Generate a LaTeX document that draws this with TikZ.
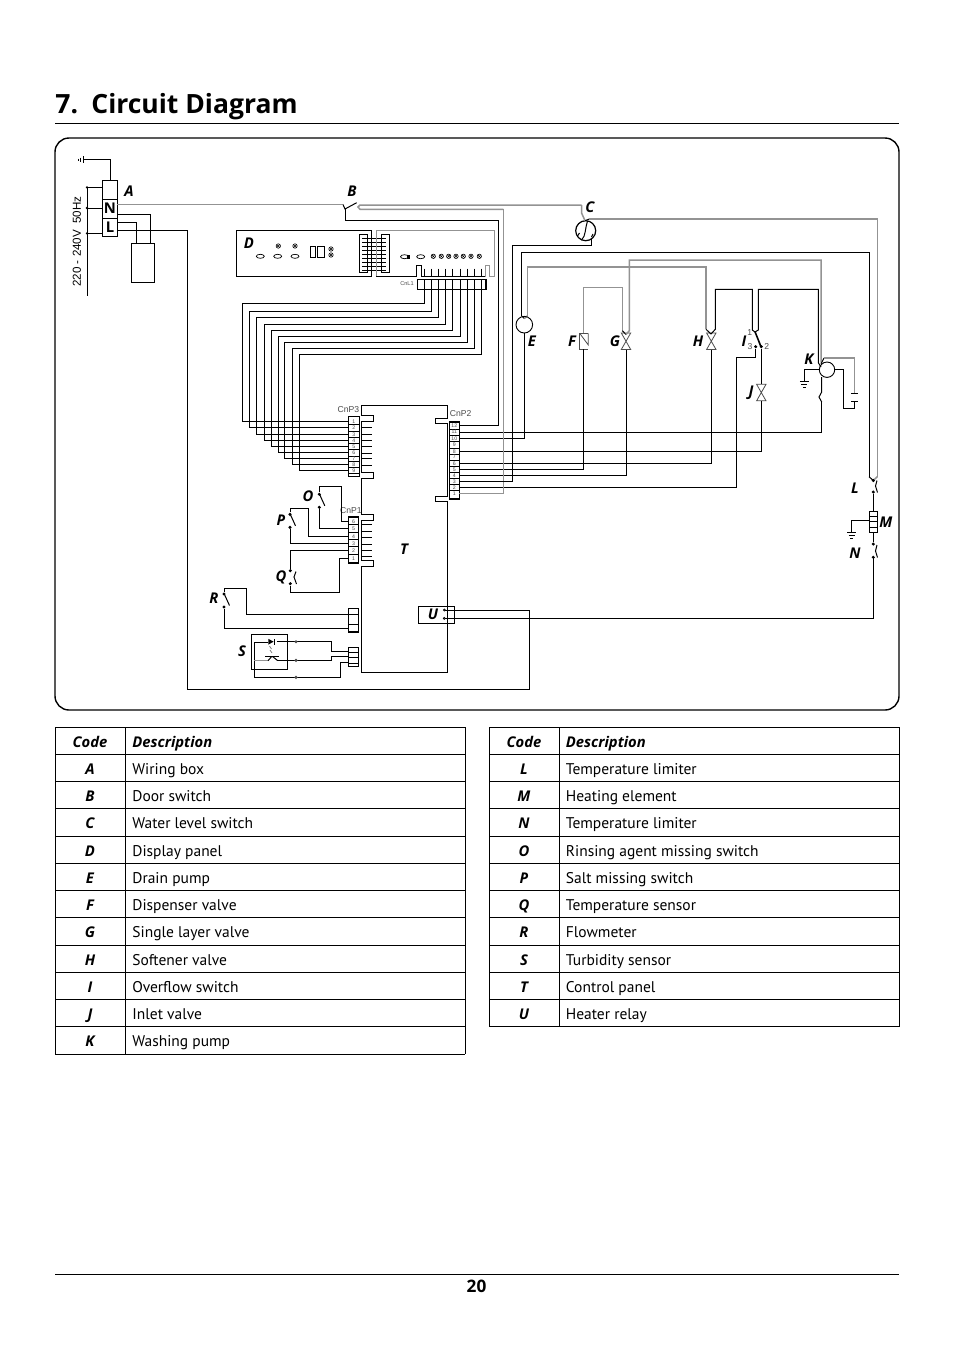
\documentclass[tikz,border=0pt]{standalone}
\usepackage{fontspec}
\setmainfont{PT Sans}
\newfontfamily\wirefont{Liberation Sans}
\newfontfamily\headfont{Open Sans}
\usetikzlibrary{calc}
\tikzset{>=latex}
\tikzset{
  wire/.style={line width=0.5pt},
  gwire/.style={gray!85, line width=0.75pt},
  thinpart/.style={gray!60!black, line width=0.4pt},
  dot/.style={circle, fill, inner sep=0pt, minimum size=1.7pt},
  ring/.style={circle, draw, line width=0.45pt, inner sep=0pt, minimum size=#1},
  letter/.style={font=\headfont\fontsize{7.4}{9}\selectfont\bfseries\itshape, inner sep=0pt},
  pinnum/.style={font=\wirefont\fontsize{2.6}{3}\selectfont, gray!60!black, inner sep=0pt},
  cnlabel/.style={font=\wirefont\fontsize{4.3}{5}\selectfont, gray!60!black, inner sep=0pt},
  tabtext/.style={font=\fontsize{7.75}{9}\selectfont, inner sep=0pt, anchor=base west},
  tabcode/.style={font=\headfont\fontsize{7.4}{9}\selectfont\bfseries\itshape, inner sep=0pt, anchor=base},
  tabhead/.style={font=\headfont\fontsize{7.4}{9}\selectfont\bfseries\itshape, inner sep=0pt, anchor=base west},
  headline/.style={font=\headfont\fontsize{13.25}{16}\selectfont\bfseries, inner sep=0pt, anchor=base west},
}
% bow tie valve, name/x/top
\newcommand{\valve}[3]{
  \draw[thinpart] (#2-4.7,#3) -- (#2+4.7,#3) -- (#2-4.7,#3+16.5) -- (#2+4.7,#3+16.5) -- cycle;
  \coordinate (#1t) at (#2,#3);
  \coordinate (#1b) at (#2,#3+16.5);
}
% earth bars, x/top
\newcommand{\earth}[2]{
  \draw[wire] (#1-4.5,#2) -- (#1+4.5,#2);
  \draw[line width=0.4pt] (#1-3,#2+3) -- (#1+3,#2+3);
  \draw[line width=0.4pt] (#1-1.5,#2+6) -- (#1+1.5,#2+6);
}
% cross in a ring
\newcommand{\lamp}[2]{
  \draw[line width=0.3pt] (#1,#2) circle (2.2);
  \draw[line width=0.25pt] (#1-1.5,#2-1.5) -- (#1+1.5,#2+1.5) (#1-1.5,#2+1.5) -- (#1+1.5,#2-1.5);
}
\begin{document}
\begin{tikzpicture}[x=0.5pt, y=-0.5pt]
\useasboundingbox (0,0) rectangle (954,1350);
\fill[white] (0,0) rectangle (954,1350);

% heading and frame
\node[headline] (titlenum) at (55,113) {7.};
\node[headline] (title) at (91,113) {Circuit Diagram};
\draw[line width=0.5pt] (55,123.5) -- (899,123.5);
\draw[line width=0.5pt] (55,1274.5) -- (899,1274.5);
\node[font=\headfont\fontsize{8.6}{10}\selectfont\bfseries, inner sep=0pt] (pageno) at (476.5,1286) {20};
\draw[line width=0.7pt, rounded corners=7pt] (55,138) rectangle (899,710);

% wiring box
\draw[wire] (102.7,180.7) rectangle (117.3,236);
\draw[wire] (102.7,199.3) -- (117.3,199.3) (102.7,218.3) -- (117.3,218.3);
\node[font=\headfont\fontsize{7.4}{8}\selectfont\bfseries, inner sep=0pt] (boxN) at (110,208.5) {N};
\node[font=\headfont\fontsize{7.4}{8}\selectfont\bfseries, inner sep=0pt] (boxL) at (110,227.5) {L};
\draw[wire] (110.7,180.7) -- (110.7,159.5) -- (83.3,159.5);
\draw[wire] (83.3,156) -- (83.3,163) (80.7,157.5) -- (80.7,161.5) (78.5,158.5) -- (78.5,160.5);
\draw[wire] (87,187.3) -- (87,295.7);
\draw[wire] (102.7,187.3) -- (87,187.3) (102.7,208) -- (87,208) (102.7,233.3) -- (87,233.3);
\foreach \y in {187.3,208,233.3} \fill (87,\y) circle (1.3);
\node[font=\wirefont\fontsize{5.8}{7}\selectfont, rotate=90, inner sep=0pt] (mains) at (77,241.5) {220 - 240V\ \ 50Hz};
\draw[wire] (131.3,243.3) rectangle (154.3,282.3);
\draw[wire] (117.3,214.7) -| (150.3,243.3);
\draw[wire] (117.3,222) -| (136.7,243.3);

% door switch and level switch
\draw[gwire] (117.3,204.3) -- (343,204.3);
\draw[wire] (343,204.5) -- (345,209) -- (356.7,202.7);
\draw[gwire] (581.7,205) -- (360,205) -- (358,207) -- (360,209.3) -- (503.3,209.3);
\node[ring=10pt, line width=0.6pt] (levelC) at (585.7,230.7) {};
\draw[wire] (587.5,221) .. controls (585,228) and (586,236) .. (581.5,240);
\draw[wire] (577.5,236) -- (579.5,233) (591.5,237) -- (593,234);
\draw[gwire] (581.7,205) -- (581.7,213.3) -- (585,220.7);
\draw[wire] (585,220.7) -- (589.3,219);
\draw[gwire] (589.3,219) -- (877.3,219) -- (877.3,476.7);
\draw[wire] (869,476.7) -- (873.3,480.5);
\draw[gwire] (873.3,480.5) -- (877.3,476.7);

% display panel
\draw[wire] (371.7,276.7) -- (236.3,276.7) -- (236.3,230.7) -- (371.7,230.7) -- cycle;
\draw[wire] (359.3,234.3) rectangle (367.3,272.7);
\draw[wire] (381.7,234.3) rectangle (389.3,272.7);
\foreach \y in {238.5,242.5,246.5,250.5,254.5,258.5,262.5,266.5,270} \draw[line width=0.4pt] (362,\y) -- (386,\y);
\draw[gwire] (376.3,276.7) -- (376.3,230.7) -- (494.3,230.7) -- (494.3,276.7) -- (489.7,276.7) -- (489.7,265.7) -- (485.3,265.7) -- (485.3,276.7);
\draw[wire] (376.3,276.7) -- (416,276.7) -- (416,265.7) -- (421.3,265.7) -- (421.3,276.7) -- (485.3,276.7);
\foreach \x/\y in {260.3/256.3,277.7/256.3,295/256.3,420.7/256.7} \draw[line width=0.35pt] (\x,\y) ellipse (4 and 2);
\draw[line width=0.35pt] (404.5,256.7) ellipse (4 and 2);
\fill (407,255) rectangle (410,258.5);
\foreach \x/\y in {278.3/246,295/246,331/249,331/255,433.3/256.3,441.3/256.3,448.7/256.3,456/256.3,463.3/256.3,471/256.3,479.3/256.3} \lamp{\x}{\y}
\draw[wire] (310,246.7) rectangle (315.7,257.3);
\draw[wire] (317.7,246.7) rectangle (324.3,257.3);
\draw[wire] (417.3,279.3) rectangle (486.7,289.3);
\draw[line width=1pt] (486.3,279.3) -- (486.3,289.3);
\node[font=\wirefont\fontsize{2.8}{3}\selectfont, gray!60!black, inner sep=0pt] (labelCnL) at (407,284) {CnL1};
\foreach \x [count=\n] in {424.7,431.7,438.7,445.7,452.7,460.3,467.7,474.7,481.7} {
  \coordinate (cl\n) at (\x,289.3);
  \draw[wire] (\x,268.5) -- (\x,276.7) (\x,279.3) -- (\x,289.3);
}

% control panel outline
\draw[wire] (361.5,405.3) -- (447.5,405.3) -- (447.5,418.3) -- (435.7,418.3) -- (435.7,423.3) -- (447.5,423.3) -- (447.5,496.7) -- (435.7,496.7) -- (435.7,501.7) -- (447.5,501.7) -- (447.5,672.3) -- (361.5,672.3) -- (361.5,566.3) -- (373.3,566.3) -- (373.3,560) -- (361.5,560) -- (361.5,520.7) -- (373.3,520.7) -- (373.3,514.3) -- (361.5,514.3) -- (361.5,478) -- (373.3,478) -- (373.3,472.3) -- (361.5,472.3) -- (361.5,421) -- (373.3,421) -- (373.3,415) -- (361.5,415) -- cycle;
\foreach \y in {427.7,434.3,440.3,446,453.3,458.3,465,524.3,531.7,537.7,544,550,556} \draw[wire] (361.5,\y) -- (372,\y);

% connectors
\node[cnlabel] (labelCnPc) at (348.5,410) {CnP3};
\node[cnlabel] (labelCnPb) at (460.7,414) {CnP2};
\node[cnlabel] (labelCnPa) at (351,510.5) {CnP1};
\draw[wire] (348.3,416.3) rectangle (359.3,476.3);
\draw[wire] (449.3,421.7) rectangle (459.3,499);
\draw[line width=1pt] (449.3,498.7) -- (459.3,498.7);
\draw[wire] (348.3,516) rectangle (358.7,563.3);
\draw[line width=1pt] (348.3,563) -- (358.7,563);
\foreach \y [count=\n] in {421,427.7,434.3,440.3,446,452.7,458.3,464,470.3} {
  \coordinate (pc\n) at (348.3,\y);
  \draw[line width=0.35pt] (348.3,\y+3.2) -- (359.3,\y+3.2);
  \node[pinnum] (numc\n) at (353.8,\y+0.3) {\n};
}
\foreach \y [count=\n] in {493.3,487.3,481.3,475.3,469.3,463.3,457,451.3,444.3,438.3,432,425.8} {
  \coordinate (pb\n) at (459.3,\y);
  \draw[line width=0.35pt] (449.3,\y-3) -- (459.3,\y-3);
  \node[pinnum] (numb\n) at (454.3,\y) {\n};
}
\foreach \y [count=\n] in {558.3,550.3,543.3,536.3,528.3,521.3} {
  \coordinate (pa\n) at (348.3,\y);
  \draw[line width=0.35pt] (348.3,\y-3.6) -- (358.7,\y-3.6);
  \node[pinnum] (numa\n) at (353.5,\y) {\n};
}

% display to CnP3
\foreach \xl/\yh [count=\n] in {242.3/303.7,249.3/311,256.3/317.7,264.3/324.3,271.3/330.7,278.7/336.3,284.3/342.3,292.3/348.3,299.3/354.3}
  \draw[wire] (pc\n) -| (\xl,\yh) -| (cl\n);

% rinse, salt and temperature sensors
\foreach \nm/\x/\y in {O/319.3/494.3,P/290/514.3,R/224/594} {
  \node[dot] (\nm-up) at (\x,\y) {};
  \node[dot] (\nm-dn) at (\x,\y+13) {};
  \draw[wire] (\x+0.5,\y+0.5) -- (\x+5.5,\y+11.5);
}
\node[dot] (Q-up) at (290.3,570.7) {};
\node[dot] (Q-dn) at (290.3,583.7) {};
\draw[wire] (296,571.5) -- (294,577) -- (296.5,584);
\draw[wire] (O-up) |- (341.3,486) |- (pa6);
\draw[wire] (O-dn) |- (pa5);
\draw[wire] (P-up) |- (308.7,508.3) |- (pa4);
\draw[wire] (P-dn) |- (pa3);
\draw[wire] (Q-up) |- (pa2);
\draw[wire] (Q-dn) |- (339.3,592.3) |- (pa1);

% flowmeter
\draw[wire] (348.3,608.3) rectangle (358.7,632.3);
\draw[wire] (348.3,614.3) -- (358.7,614.3) (348.3,624) -- (358.7,624);
\draw[line width=1pt] (348.3,632) -- (358.7,632);
\coordinate (fa) at (348.3,614.3);
\coordinate (fb) at (348.3,628.3);
\draw[wire] (R-up) |- (246.3,588.3) |- (fa);
\draw[wire] (R-dn) |- (fb);

% turbidity sensor
\draw[wire] (251.3,634.3) rectangle (287.7,669.7);
\draw[wire] (348.3,647.7) rectangle (358.7,666.3);
\foreach \y in {651.7,656.7,662.7} \draw[line width=0.4pt] (348.3,\y+0.3) -- (358.7,\y+0.3);
\coordinate (sa) at (348.3,651.7);
\coordinate (sb) at (348.3,656.7);
\coordinate (sc) at (348.3,662.7);
\draw[wire] (277.3,641.7) -| (331.3,651.7) -- (sa);
\draw[wire] (277.3,660.3) -| (331.3,656.7) -- (sb);
\draw[wire] (268,642) -- (254.3,642) -- (254.3,677.3) -| (340.3,662.7) -- (sc);
\foreach \y in {641.7,660.3,677.3} \node[dot, gray!60!black] at (296,\y) {};
\fill (268.3,638.8) -- (268.3,644.6) -- (273.6,641.7) -- cycle;
\draw[line width=0.5pt] (274.3,639) -- (274.3,644.5);
\draw[gray, line width=0.4pt] (269.5,646) -- (271.5,649) (270,650) -- (272,653);
\draw[gwire] (254.3,660.7) -- (268,660.7);
\draw[wire] (265,656) -- (279,656);
\draw[wire] (268,660.7) -- (271.7,656.5) (272.5,656.5) -- (277.3,660.3);

% heater relay
\draw[wire] (418.3,606.3) rectangle (454.7,623.7);
\draw[line width=0.35pt] (444.3,610) circle (1) (444.3,618.3) circle (1);
\draw[line width=0.35pt] (445.3,610) -- (454.7,610) (445.3,618.3) -- (454.7,618.3);
\coordinate (ua) at (454.7,610);
\coordinate (ub) at (454.7,618.3);
\draw[wire] (117.3,230.3) -| (187.3,689) -| (529,610) -- (ua);
\draw[wire] (ub) -| (873.3,557.3);

% drain pump
\draw[wire] (521.7,316) -- (524.3,318.5);
\draw[gwire] (524.3,318.5) -- (527.3,316);
\node[ring=8.3pt] (pumpE) at (524.3,324.7) {};
\draw[wire] (521.7,316) |- (869,252.7) -- (869,476.7);
\draw[gwire] (527.3,316) |- (706,267) -- (706,329.3);
\draw[wire] (pb10) -| (pumpE.south);

% dispenser valve
\draw[thinpart] (588.3,333.3) -- (579.7,333.3) -- (579.7,349.3) -- (588.3,349.3);
\draw[thinpart] (579.7,333.3) -- (588.3,345) -- (588.3,333.3);
\draw[gwire] (583.3,333.3) |- (622.3,287.7) -- (622.3,330.7);
\draw[wire] (pb5) -| (583.3,349.3);

% single layer valve
\valve{G}{626}{333}
\draw[wire] (622.3,330.7) -- (626,334.5);
\draw[gwire] (626,334.5) -- (629.3,330.7) |- (821,260) -- (821,362.7);
\draw[wire] (pb4) -| (Gb);

% softener valve
\valve{H}{711.3}{333}
\draw[wire] (706,329.3) -- (711,334) -- (715.3,329.3) |- (752.3,289.3) -- (752.3,330) -- (755,332);
\draw[wire] (pb6) -| (Hb);

% overflow switch and inlet valve
\draw[wire] (755,332) -- (758.3,330) |- (818.3,289.3) -- (818.3,362.7) -- (821,367);
\draw[line width=0.8pt] (755,331.7) -- (760.7,346);
\node[dot] (swC) at (755.7,346.7) {};
\node[dot] (swB) at (761.3,346.7) {};
\node[cnlabel] (num1) at (749.7,332.3) {1};
\node[cnlabel] (num3) at (750,346.7) {3};
\node[cnlabel] (num2) at (766.7,346) {2};
\valve{J}{761.3}{384.3}
\draw[wire] (swB) -- (Jt);
\draw[wire] (pb8) -| (Jb);
\draw[wire] (pb2) -| (736.7,357.3) -| (swC);

% washing pump
\node[ring=7.7pt] (pumpK) at (827,369.7) {};
\draw[wire] (pumpK.west) -| (804.3,380.7);
\earth{804.3}{381}
\draw[wire] (821,364) -- (824,358);
\draw[gwire] (824,358) -- (854.3,358) -- (854.3,393);
\draw[wire] (851,393.3) -- (857.7,393.3) (851,401.3) -- (857.7,401.3);
\draw[wire] (854.3,393) -- (854.3,393.3);
\draw[wire] (854.3,401.3) |- (843.7,408.3) |- (pumpK.east);
\draw[wire] (821.7,377) -- (821.7,392) -- (819,397) -- (821.7,402);
\draw[wire] (pb11) -| (821.7,402);

% heating element and limiters
\node[dot] (limLa) at (873.3,480.5) {};
\node[dot] (limLb) at (873.3,492) {};
\node[dot] (limNa) at (873.3,544) {};
\node[dot] (limNb) at (873.3,557.3) {};
\draw[wire] (877,480.5) -- (875.5,486) -- (877.5,492.5);
\draw[wire] (877,545) -- (875.5,551) -- (877.5,557.5);
\draw[wire] (869.3,511.3) rectangle (877.7,532.7);
\draw[wire] (869.3,516.7) -- (877.7,516.7) (869.3,521.7) -- (877.7,521.7) (869.3,527.3) -- (877.7,527.3);
\draw[wire] (limLb) -- (873.3,511.3) (873.3,532.7) -- (limNa);
\draw[wire] (869.3,520) -| (851.7,531.7);
\earth{851.7}{532}

% door and level wires to CnP2
\draw[wire] (pb12) -| (498.3,220.7) -| (345,209);
\draw[gwire] (pb1) -| (503.3,209.3);
\draw[wire] (pb3) -| (512.3,245.7) -| (591.7,238.5);

% letters
\foreach \nm/\x/\y in {A/129/191,B/352/191,C/590/207,D/249/243,E/532/341,F/572/341,G/615/341,H/698/341,I/744/341,J/751/393,K/809/359,L/855/488,M/886/522,N/855/553,O/308/496,P/281/520,Q/281/577,R/214/598,S/242/651,T/404/549,U/433/614}
  \node[letter] (lbl\nm) at (\x,\y) {\nm};

% tables
\foreach \xa/\xb/\xc/\rows in {55/125/465/12,489/559/899/11} {
  \draw[line width=0.5pt] (\xa,727) -- (\xc,727);
  \foreach \n in {1,...,\rows} \draw[line width=0.5pt] (\xa,727+27.25*\n) -- (\xc,727+27.25*\n);
  \draw[line width=0.5pt] (\xa,727) -- (\xa,727+27.25*\rows) (\xb,727) -- (\xb,727+27.25*\rows) (\xc,727) -- (\xc,727+27.25*\rows);
}
\node[tabcode] (headA) at (90,747) {Code};
\node[tabhead] (headB) at (132,747) {Description};
\node[tabcode] (headC) at (524,747) {Code};
\node[tabhead] (headD) at (565.5,747) {Description};
\foreach \code/\desc [count=\n] in {A/Wiring box,B/Door switch,C/Water level switch,D/Display panel,E/Drain pump,F/Dispenser valve,G/Single layer valve,H/Softener valve,I/Overflow switch,J/Inlet valve,K/Washing pump} {
  \node[tabcode] (tab\code) at (90,747+27.25*\n) {\code};
  \node[tabtext] (txt\code) at (132,747+27.25*\n) {\desc};
}
\foreach \code/\desc [count=\n] in {L/Temperature limiter,M/Heating element,N/Temperature limiter,O/Rinsing agent missing switch,P/Salt missing switch,Q/Temperature sensor,R/Flowmeter,S/Turbidity sensor,T/Control panel,U/Heater relay} {
  \node[tabcode] (tab\code) at (524,747+27.25*\n) {\code};
  \node[tabtext] (txt\code) at (565.5,747+27.25*\n) {\desc};
}
\end{tikzpicture}
\end{document}
